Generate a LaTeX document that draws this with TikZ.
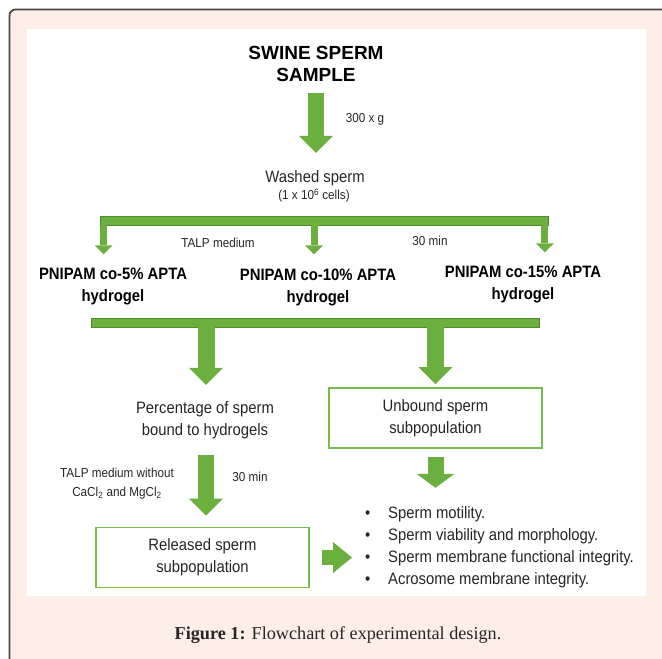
\documentclass[tikz,border=0pt]{standalone}
\usepackage{fontspec}
\setmainfont{Liberation Serif}
\setsansfont{Liberation Sans}
\newfontfamily\narrowsf{Liberation Sans}[FakeStretch=0.9]
\usetikzlibrary{arrows.meta}
\definecolor{PaperPink}{HTML}{FDEEE7}
\definecolor{FrameGray}{HTML}{4A4A4A}
\definecolor{LeafGreen}{HTML}{6BB03F}
\definecolor{MossGreen}{HTML}{4F8A2A}
\definecolor{BoxGreen}{HTML}{7ABB50}
\definecolor{InkGray}{HTML}{262626}
\tikzset{
  % Sample heading
  head/.style={font=\sffamily\bfseries\fontsize{19}{22}\selectfont, align=center, inner sep=0pt},
  % Hydrogel labels
  gel/.style={font=\narrowsf\bfseries\fontsize{16.5}{22}\selectfont, align=center, inner sep=0pt},
  % Plain step text
  txt/.style={font=\narrowsf\fontsize{16.5}{22}\selectfont, text=InkGray, align=center, inner sep=0pt},
  % Small condition text
  cond/.style={font=\narrowsf\fontsize{13}{19}\selectfont, text=InkGray, align=center, inner sep=0pt},
  % Outlined stage box
  stage/.style={txt, rectangle, draw=BoxGreen, line width=1.6pt,
    minimum width=213pt, minimum height=60pt},
  % Splitter bar
  splitbar/.style={rectangle, draw=MossGreen, fill=LeafGreen, line width=0.8pt,
    minimum width=448pt, minimum height=9pt, inner sep=0pt},
  % Block arrow
  blockarr/.style={draw=LeafGreen, line width=17pt,
    -{Triangle[length=17pt, width=34pt, line width=0pt]}},
  % Thin branch arrow
  tinyarr/.style={draw=LeafGreen, line width=7pt,
    -{Triangle[length=9pt, width=18pt, line width=0pt]}}
}
\begin{document}
\begin{tikzpicture}[x=1pt, y=-1pt]
  \useasboundingbox (0,0) rectangle (662,659);

  % Page frame and white panel
  \fill[PaperPink, rounded corners=6pt] (9.5,9.5) rectangle (690,690);
  \draw[FrameGray, line width=1.8pt, rounded corners=6pt] (9.5,690) -- (9.5,9.5) -- (690,9.5);
  \fill[white] (27,29) rectangle (646,596);

  % Sample and washing
  \node[head] (sample) at (316,64) {SWINE SPERM\\SAMPLE};
  \node[cond, anchor=base] (spin) at (365,122.7) {300 x g};
  \node[txt, anchor=base] (washed) at (315,182) {Washed sperm};
  \node[cond, anchor=base] (cells) at (314,199.7) {(1 x 10\textsuperscript{6} cells)};

  % Incubation on the three hydrogels
  \node[splitbar] (split1) at (324,220.5) {};
  \node[cond, anchor=base] (talp) at (218,247.3) {TALP medium};
  \node[cond, anchor=base] (incub) at (430,245.5) {30 min};
  \node[gel] (gel5)  at (113,287) {PNIPAM co-5\% APTA\\hydrogel};
  \node[gel] (gel10) at (318,287) {PNIPAM co-10\% APTA\\hydrogel};
  \node[gel] (gel15) at (523,285) {PNIPAM co-15\% APTA\\hydrogel};
  \node[splitbar] (split2) at (315.5,322.5) {};

  % Bound and unbound fractions
  \node[txt] (bound) at (205,420.7) {Percentage of sperm\\bound to hydrogels};
  \node[stage] (unbound) at (435.5,418) {Unbound sperm\\subpopulation};
  \node[cond] (release) at (117,483.5) {TALP medium without\\CaCl\textsubscript{2} and MgCl\textsubscript{2}};
  \node[cond, anchor=base] (wait) at (250,481.5) {30 min};
  \node[stage] (released) at (202.5,557.5) {Released sperm\\subpopulation};

  % Sperm quality tests
  \node[txt, align=left, anchor=west, font=\narrowsf\fontsize{16.5}{21.7}\selectfont] (tests) at (365,547.2)
    {\makebox[23pt][l]{\textbullet}Sperm motility.\\
     \makebox[23pt][l]{\textbullet}Sperm viability and morphology.\\
     \makebox[23pt][l]{\textbullet}Sperm membrane functional integrity.\\
     \makebox[23pt][l]{\textbullet}Acrosome membrane integrity.};

  \node[anchor=base, font=\fontsize{18.2}{20}\selectfont, text=InkGray] (caption) at (338,639)
    {\textbf{Figure 1:} Flowchart of experimental design.};

  \draw[blockarr, line width=16pt, shorten <=11pt, shorten >=17pt] (sample.south) -- (sample.south |- washed.north);
  \draw[tinyarr, shorten >=14pt] ([xshift=4pt]split1.south west) -- ([xshift=4pt]split1.south west |- gel5.north);
  \draw[tinyarr, shorten >=14pt] ([xshift=-10pt]split1.south) -- ([xshift=-10pt]split1.south |- gel10.north);
  \draw[tinyarr, shorten >=14pt] ([xshift=-3.5pt]split1.south east) -- ([xshift=-3.5pt]split1.south east |- gel15.north);
  \draw[blockarr, shorten >=17pt] ([xshift=1pt]bound.north |- split2.south) -- ([xshift=1pt]bound.north);
  \draw[blockarr, shorten >=3pt] (unbound.north |- split2.south) -- (unbound.north);
  \draw[blockarr, line width=16pt, shorten <=15.6pt, shorten >=11pt] ([xshift=1pt]bound.south) -- ([xshift=1pt]bound.south |- released.north);
  \draw[blockarr, line width=16pt, -{Triangle[length=14pt, width=38pt, line width=0pt]},
    shorten <=8pt, shorten >=19pt] (unbound.south) -- (unbound.south |- tests.north);
  \draw[blockarr, line width=15pt, -{Triangle[length=19pt, width=31pt, line width=0pt]},
    shorten <=12pt, shorten >=13pt] (released.east) -- (released.east -| tests.west);

\end{tikzpicture}
\end{document}
